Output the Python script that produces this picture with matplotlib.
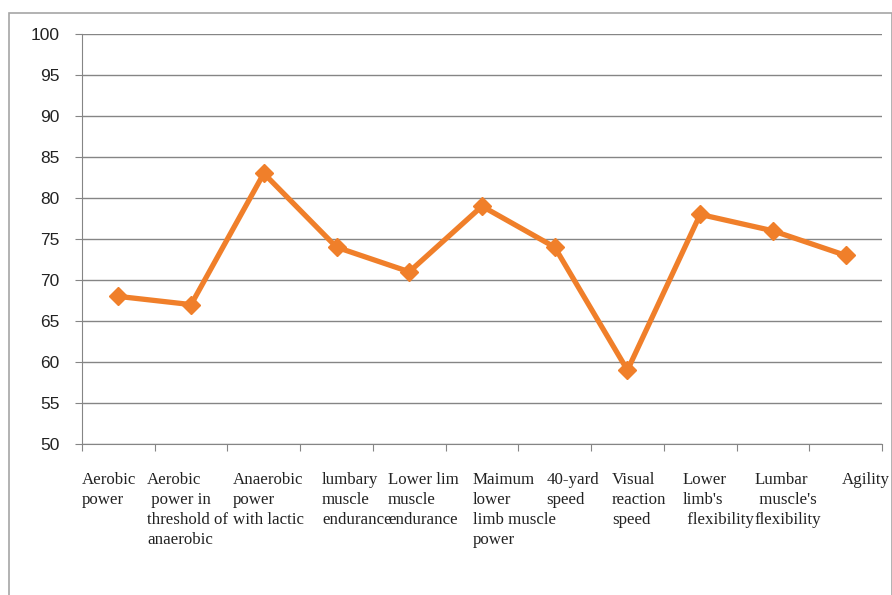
import matplotlib.pyplot as plt
from matplotlib.patches import Rectangle

categories = ["Aerobic\npower",
              "Aerobic\n power in\nthreshold of\nanaerobic",
              "Anaerobic\npower\nwith lactic",
              "lumbary\nmuscle\nendurance",
              "Lower lim\nmuscle\nendurance",
              "Maimum\nlower\nlimb muscle\npower",
              "40-yard\nspeed",
              "Visual\nreaction\nspeed",
              "Lower\nlimb's\n flexibility",
              "Lumbar\n muscle's\nflexibility",
              "Agility"]
scores = [68, 67, 83, 74, 71, 79, 74, 59, 78, 76, 73]
yticks = [50, 55, 60, 65, 70, 75, 80, 85, 90, 95, 100]

# where each category label starts, relative to its slot centre
label_shift = [-0.5, -0.606, -0.424, -0.2, -0.293, -0.124, -0.11, -0.213, -0.237, -0.247, -0.05]

fig = plt.figure(figsize=(8.92, 5.95), dpi=100)
fig.patches.append(Rectangle((9 / 892, -0.01), 0.99, 1 - 13 / 595 + 0.01,
                             transform=fig.transFigure, fill=False,
                             edgecolor='#a6a6a6', linewidth=1.2))

ax = fig.add_axes([82 / 892, 1 - 444 / 595, 800 / 892, 410 / 595])
x = list(range(len(scores)))
ax.plot(x, scores, color='#f07f2a', linewidth=3.8, marker='D', markersize=9,
        markerfacecolor='#f07f2a', markeredgecolor='#f07f2a', zorder=3)

ax.set_xlim(-0.5, len(scores) - 0.5)
ax.set_ylim(50, 100)
ax.set_yticks(yticks)
ax.yaxis.grid(True, color='#858585', linewidth=1)
ax.set_axisbelow(True)

ax.set_xticks([i - 0.5 for i in range(len(scores) + 1)])
ax.set_xticklabels([])
ax.tick_params(axis='x', direction='out', length=5, color='#858585')
ax.tick_params(axis='y', direction='out', length=5, color='#858585', pad=11,
               labelsize=12.5, labelcolor='#222222')
for lab in ax.get_yticklabels():
    lab.set_family('Liberation Sans')

for side in ['top', 'right']:
    ax.spines[side].set_visible(False)
for side in ['left', 'bottom']:
    ax.spines[side].set_color('#858585')

tr = ax.get_xaxis_transform()
for i, name in enumerate(categories):
    ax.text(i + label_shift[i], -0.068, name, transform=tr, ha='left', va='top',
            family='Liberation Serif', fontsize=12.2, linespacing=1.33,
            color='#222222')

fig.savefig('out.png', dpi=100)
